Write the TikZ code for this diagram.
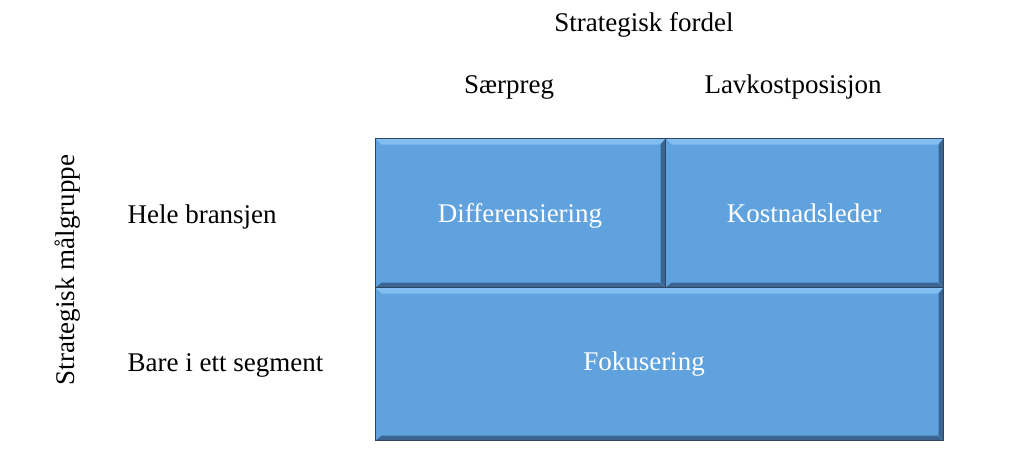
\documentclass[tikz,border=0pt]{standalone}
\usepackage{fontspec}
\setmainfont{Liberation Serif}
\usepackage{tikz}
\usetikzlibrary{positioning,calc}
\definecolor{boxfill}{RGB}{96,162,222}
\definecolor{boxlight}{RGB}{130,190,240}
\definecolor{boxdark}{RGB}{60,100,145}
\definecolor{boxedge}{RGB}{45,70,100}

\begin{document}
\begin{tikzpicture}[
  x=1pt, y=-1pt,
  every node/.style={font=\fontsize{27}{32}\selectfont},
  lbl/.style={anchor=base},
  celltxt/.style={anchor=base, text=white},
  cell/.style={draw=boxedge, line width=1.2pt, fill=boxfill, text=white,
               inner sep=0pt, anchor=north west,
               path picture={
                 \fill[boxlight] (path picture bounding box.north west)
                   -- (path picture bounding box.north east)
                   -- ($(path picture bounding box.north east)+(-6,6)$)
                   -- ($(path picture bounding box.north west)+(6,6)$) -- cycle;
                 \fill[boxdark] (path picture bounding box.south west)
                   -- (path picture bounding box.south east)
                   -- ($(path picture bounding box.south east)+(-6,-5)$)
                   -- ($(path picture bounding box.south west)+(6,-5)$) -- cycle;
                 \fill[boxdark] (path picture bounding box.north east)
                   -- (path picture bounding box.south east)
                   -- ($(path picture bounding box.south east)+(-5,-5)$)
                   -- ($(path picture bounding box.north east)+(-5,6)$) -- cycle;
               }}
]
\useasboundingbox (0,0) rectangle (1023,472);

% the three cells
\node[cell, minimum width=290pt, minimum height=149pt] (diff) at (375,138) {};
\node[cell, minimum width=278pt, minimum height=149pt] (kost) at (665,138) {};
\node[cell, minimum width=568pt, minimum height=153pt] (fok) at (375,287) {};
\node[celltxt] (difftxt) at (520,222) {Differensiering};
\node[celltxt] (kosttxt) at (804,222) {Kostnadsleder};
\node[celltxt] (foktxt) at (644,370) {Fokusering};

% column headings
\node[lbl] (fordel) at (644,31) {Strategisk fordel};
\node[lbl] (saerpreg) at (509,93) {Særpreg};
\node[lbl] (lavkost) at (793,93) {Lavkostposisjon};

% row headings
\node[anchor=base west] (hele) at (124,223) {Hele bransjen};
\node[anchor=base west] (bare) at (124,371) {Bare i ett segment};
\node[rotate=90] (maal) at (68,270) {Strategisk målgruppe};
\end{tikzpicture}
\end{document}
